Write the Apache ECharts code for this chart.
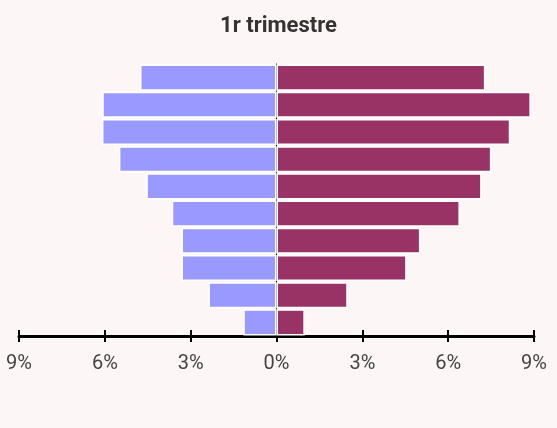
<!DOCTYPE html>
<html>
<head>
<meta charset="utf-8">
<script src="https://cdn.jsdelivr.net/npm/echarts@6/dist/echarts.min.js"></script>
<style>
html,body{margin:0;padding:0;background:#fcf6f6;}
#chart{width:557px;height:428px;}
</style>
</head>
<body>
<div id="chart"></div>
<script>
// categories from bottom to top
var categories = ['0-9','10-19','20-29','30-39','40-49','50-59','60-69','70-79','80-89','90+'];
var leftValues = [1.16, 2.38, 3.32, 3.32, 3.66, 4.55, 5.51, 6.10, 6.09, 4.77];
var rightValues = [0.99, 2.49, 4.55, 5.03, 6.41, 7.17, 7.51, 8.17, 8.89, 7.30];
var titleText = '1r trimestre';
var axisMin = -9, axisMax = 9, axisStep = 3;

var chart = echarts.init(document.getElementById('chart'));
var labelFont = 'Roboto, "Liberation Sans", sans-serif';
chart.setOption({
  backgroundColor: '#fcf6f6',
  animation: false,
  title: {
    text: titleText,
    left: 'center',
    top: 10,
    textStyle: {fontFamily: labelFont, fontWeight: 'bold', fontSize: 22, color: '#333333'}
  },
  grid: {left: 19, right: 23, top: 64, bottom: 92},
  xAxis: [{
    type: 'value', min: axisMin, max: axisMax, interval: axisStep,
    splitLine: {show: false},
    axisLine: {show: true, lineStyle: {color: '#000', width: 3}},
    axisTick: {show: true, length: 6, lineStyle: {color: '#000', width: 2}},
    axisLabel: {
      margin: 18,
      fontFamily: labelFont, fontSize: 20, color: '#444',
      formatter: function (v) { return Math.abs(v) + '%'; }
    }
  }, {
    type: 'value', min: axisMin, max: axisMax, interval: axisStep,
    position: 'bottom',
    splitLine: {show: false},
    axisLine: {show: false},
    axisTick: {show: true, inside: true, length: 6, lineStyle: {color: '#000', width: 2}},
    axisLabel: {show: false}
  }],
  yAxis: {
    type: 'category', data: categories,
    axisLine: {show: true, onZero: true, lineStyle: {color: '#000', width: 1}},
    axisTick: {show: false},
    axisLabel: {show: false},
    splitLine: {show: false}
  },
  series: [{
    type: 'bar', name: 'left',
    data: leftValues.map(function (v) { return -v; }),
    barGap: '-100%', barCategoryGap: '4%',
    itemStyle: {color: '#9999ff', borderColor: '#ffffff', borderWidth: 1.5},
    z: 1
  }, {
    type: 'bar', name: 'right',
    data: rightValues,
    barGap: '-100%', barCategoryGap: '4%',
    itemStyle: {color: '#993366', borderColor: '#ffffff', borderWidth: 1.5},
    z: 1
  }]
});
</script>
</body>
</html>
